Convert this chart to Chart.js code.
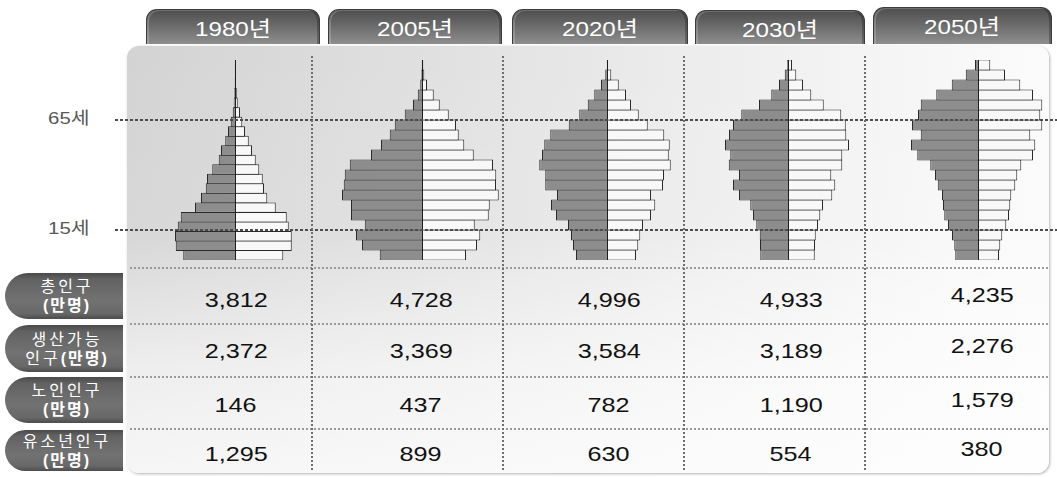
<!DOCTYPE html>
<html lang="ko">
<head>
<meta charset="utf-8">
<title>인구 피라미드</title>
<script src="https://cdn.jsdelivr.net/npm/chart.js@4.4.1/dist/chart.umd.min.js"></script>
<style>
  html, body { margin: 0; padding: 0; background: #fff; }
  body {
    width: 1057px; height: 477px; position: relative; overflow: hidden;
    font-family: "Liberation Sans", "Noto Sans CJK KR", sans-serif;
  }
  .tab {
    position: absolute; height: 35px; box-sizing: border-box;
    border-radius: 11px 11px 0 0;
    background: linear-gradient(to bottom, #4e4e4e 0%, #6a6a6a 45%, #8e8e8e 100%);
    border: 1px solid #3c3c3c; border-bottom: none;
    box-shadow: inset 2px 1px 0 rgba(255,255,255,0.18), inset -2px 0 0 rgba(0,0,0,0.25);
    color: #fff; font-size: 21px; text-align: center; line-height: 38px;
  }
  .tab span, .val span, .age span { display: inline-block; }
  .tab span { transform: scaleX(1.15); }
  .panel {
    position: absolute; left: 127px; top: 46px; width: 922px; height: 427px;
    border-radius: 12px;
    background:
      linear-gradient(to bottom, rgba(255,255,255,0) 0%, rgba(255,255,255,0.1) 45%, rgba(255,255,255,0.6) 75%, rgba(255,255,255,0.8) 100%),
      linear-gradient(to right, #d3d3d3 0%, #dfdfdf 30%, #ececec 60%, #f6f6f6 85%, #fbfbfb 100%);
    box-shadow: 1px 1px 3px rgba(0,0,0,0.3);
  }
  .pill {
    position: absolute; left: 5px; width: 118px; box-sizing: border-box;
    border-radius: 24px 0 0 24px;
    background: linear-gradient(to bottom, #4a4a4a 0%, #626262 14%, #727272 60%, #686868 88%, #4c4c4c 100%);
    color: #fff; font-size: 16px; line-height: 19px; letter-spacing: 3px;
    display: flex; flex-direction: column; justify-content: center; align-items: center;
    padding-left: 6px;
  }
  .pill b { font-weight: bold; letter-spacing: 2px; }
  .val {
    position: absolute; width: 160px; height: 24px; line-height: 24px;
    text-align: center; font-size: 21px; color: #111;
  }
  .val span { transform: scaleX(1.2); }
  .age {
    position: absolute; left: 0; width: 90px; text-align: right;
    font-size: 17px; color: #585858; height: 20px; line-height: 20px;
  }
  .age span { transform: scaleX(1.2); transform-origin: right center; }
  canvas { position: absolute; z-index: 2; }
  .hdot {
    position: absolute; height: 2px; z-index: 3;
    background: repeating-linear-gradient(to right, #4c4c4c 0 3px, transparent 3px 5px);
  }
  .rdot {
    position: absolute; height: 2px; z-index: 3;
    background: repeating-linear-gradient(to right, #9a9a9a 0 2px, transparent 2px 4px);
  }
  .vdot {
    position: absolute; width: 2px; z-index: 3;
    background: repeating-linear-gradient(to bottom, #6e6e6e 0 2px, transparent 2px 4px);
  }
</style>
</head>
<body>
<div class="panel"></div>
<script>
// ---- data ----
const years = ['1980년', '2005년', '2020년', '2030년', '2050년'];

// five-year age groups, youngest first (천명)
const ageGroups = ['0-4', '5-9', '10-14', '15-19', '20-24', '25-29', '30-34', '35-39', '40-44', '45-49',
  '50-54', '55-59', '60-64', '65-69', '70-74', '75-79', '80-84', '85-89', '90-94', '95-99', '100+'];

const male1980   = [2070, 2370, 2400, 2290, 2170, 1600, 1360, 1170, 1120, 910, 650, 560, 390, 280, 170, 90, 50, 30, 13, 8, 6];
const female1980 = [1930, 2270, 2270, 2150, 2070, 1630, 1290, 1160, 1110, 970, 830, 680, 550, 400, 290, 200, 110, 70, 40, 20, 14];

const male2005   = [1690, 2400, 2640, 2290, 2840, 2840, 3200, 3130, 3090, 2890, 2040, 1640, 1290, 1090, 690, 360, 170, 70, 30, 10];
const female2005 = [1760, 2200, 2330, 2110, 2670, 2710, 3070, 2960, 2970, 2840, 2070, 1690, 1470, 1360, 1070, 710, 470, 200, 90, 50];

const male2020   = [1240, 1360, 1440, 1560, 2040, 2240, 2000, 2470, 2470, 2710, 2600, 2510, 2270, 1530, 1110, 770, 510, 240, 70, 10];
const female2020 = [1160, 1250, 1330, 1440, 1760, 1930, 1760, 2240, 2280, 2550, 2470, 2510, 2290, 1630, 1270, 960, 760, 470, 170, 30];

const male2030   = [1110, 1120, 1130, 1270, 1400, 1510, 1960, 2200, 1960, 2370, 2310, 2520, 2360, 2200, 1870, 1160, 670, 360, 130, 40];
const female2030 = [1070, 1080, 1110, 1200, 1290, 1400, 1770, 1890, 1730, 2170, 2170, 2440, 2330, 2310, 2130, 1430, 930, 600, 330, 160];

const male2050   = [910, 950, 1040, 1200, 1350, 1400, 1440, 1610, 1720, 1910, 2430, 2680, 2290, 2640, 2400, 2290, 1670, 1050, 490, 120];
const female2050 = [840, 890, 970, 1130, 1240, 1290, 1330, 1490, 1570, 1730, 2200, 2290, 2090, 2570, 2490, 2570, 2200, 1690, 1080, 490];

// summary table (만명)
const rowLabels = [['총인구', '(만명)'], ['생산가능', '인구(만명)'], ['노인인구', '(만명)'], ['유소년인구', '(만명)']];
const totalPop   = [3812, 4728, 4996, 4933, 4235];
const workingPop = [2372, 3369, 3584, 3189, 2276];
const elderlyPop = [146, 437, 782, 1190, 1579];
const youthPop   = [1295, 899, 630, 554, 380];

const ageMarks = ['65세', '15세'];

// ---- layout ----
const maleByYear = [male1980, male2005, male2020, male2030, male2050];
const femaleByYear = [female1980, female2005, female2020, female2030, female2050];
const tableRows = [totalPop, workingPop, elderlyPop, youthPop];

const colCenters = [235, 422, 607, 788, 978];
const valueCenters = [236, 421, 609, 791, 982];
const valueShift = [0, 0, 0, 0, -5];
const tabBoxes = [[146, 9, 174], [328, 9, 174], [512, 9, 176], [695, 10, 170], [873, 7, 179]];
const pillBoxes = [[273, 46], [325, 47], [377, 46], [430, 41]];
const rowCenters = [300, 351, 405, 454];
const ageMarkY = [120, 230];
const pyrTop = 60, pyrHeight = 200, pyrHalfWidth = 90, xLimit = 3600;

function el(tag, cls, css, html) {
  const e = document.createElement(tag);
  if (cls) e.className = cls;
  Object.assign(e.style, css || {});
  if (html !== undefined) e.innerHTML = html;
  document.body.appendChild(e);
  return e;
}

// year tabs
years.forEach((y, i) => {
  const [x, t, w] = tabBoxes[i];
  el('div', 'tab', { left: x + 'px', top: t + 'px', width: w + 'px', height: (44 - t) + 'px' }, '<span>' + y + '</span>');
});

// row label pills
rowLabels.forEach((lines, i) => {
  const [t, h] = pillBoxes[i];
  const fmt = s => s.replace('(만명)', '<b>(만명)</b>');
  el('div', 'pill', { top: t + 'px', height: h + 'px' },
    '<div>' + fmt(lines[0]) + '</div><div>' + fmt(lines[1]) + '</div>');
});

// table values
tableRows.forEach((row, r) => {
  row.forEach((v, c) => {
    el('div', 'val', { left: (valueCenters[c] - 80) + 'px', top: (rowCenters[r] - 12 + valueShift[c]) + 'px' },
      '<span>' + v.toLocaleString('en-US') + '</span>');
  });
});

// age mark labels
ageMarks.forEach((txt, i) => {
  el('div', 'age', { top: (ageMarkY[i] - 11) + 'px' }, '<span>' + txt + '</span>');
});

// dotted guide lines
ageMarkY.forEach(y => el('div', 'hdot', { left: '115px', width: '942px', top: (y - 1) + 'px' }));
[268, 324, 377, 429].forEach(y => el('div', 'rdot', { left: '130px', width: '918px', top: (y - 1) + 'px' }));
[312, 503, 684, 865].forEach(x => el('div', 'vdot', { left: (x - 1) + 'px', top: '56px', height: '414px' }));

// vertical axis line through each pyramid
const centerLine = {
  id: 'centerLine',
  afterDatasetsDraw(chart) {
    const { ctx, chartArea, scales } = chart;
    const x = Math.round(scales.x.getPixelForValue(0)) + 0.5;
    ctx.save();
    ctx.strokeStyle = '#1e1e1e';
    ctx.lineWidth = 1;
    ctx.beginPath();
    ctx.moveTo(x, chartArea.top);
    ctx.lineTo(x, chartArea.bottom);
    ctx.stroke();
    ctx.restore();
  }
};

function drawPyramid(i) {
  const cv = document.createElement('canvas');
  cv.width = pyrHalfWidth * 2;
  cv.height = pyrHeight;
  Object.assign(cv.style, {
    left: (colCenters[i] - pyrHalfWidth) + 'px', top: pyrTop + 'px',
    width: pyrHalfWidth * 2 + 'px', height: pyrHeight + 'px'
  });
  document.body.appendChild(cv);
  const male = maleByYear[i], female = femaleByYear[i];
  new Chart(cv, {
    type: 'bar',
    data: {
      labels: ageGroups.slice(0, male.length),
      datasets: [
        { label: '남자', data: male.map(v => -v), backgroundColor: '#8d8d8d', borderColor: '#2a2a2a', borderWidth: 1 },
        { label: '여자', data: female, backgroundColor: '#f8f8f8', borderColor: '#2a2a2a', borderWidth: 1 }
      ]
    },
    options: {
      indexAxis: 'y',
      responsive: false,
      animation: false,
      devicePixelRatio: 1,
      layout: { padding: 0 },
      datasets: { bar: { categoryPercentage: 1, barPercentage: 1.1 } },
      scales: {
        x: { type: 'linear', min: -xLimit, max: xLimit, stacked: true, display: false },
        y: { type: 'category', stacked: true, reverse: true, display: false }
      },
      plugins: { legend: { display: false }, tooltip: { enabled: false } }
    },
    plugins: [centerLine]
  });
}

years.forEach((_, i) => drawPyramid(i));
</script>
</body>
</html>
